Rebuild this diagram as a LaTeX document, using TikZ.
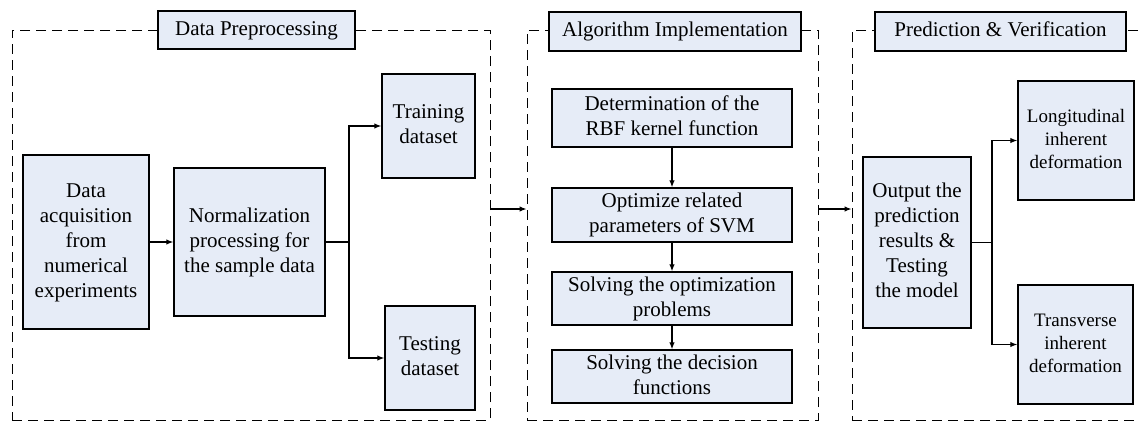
\documentclass[tikz,border=0pt]{standalone}
\usepackage{fontspec}
\setmainfont{Liberation Serif}
\usetikzlibrary{arrows.meta}
\definecolor{boxfill}{HTML}{E6ECF7}
\newcommand\boxtext[1]{\raisebox{-3.5pt}{\begin{tabular}{@{}c@{}}#1\end{tabular}}}
\begin{document}
\begin{tikzpicture}[x=1pt,y=-1pt,
  boxbase/.style={draw=black, line width=1.4pt, fill=boxfill, inner sep=0pt},
  box/.style={boxbase, font=\fontsize{21}{25}\selectfont},
  smallbox/.style={boxbase, font=\fontsize{19}{23}\selectfont},
  frame/.style={draw=black, line width=1pt, dash pattern=on 10pt off 6pt, inner sep=0pt},
  arr/.style={line width=1.2pt, -{Latex[length=7pt,width=5.5pt]}},
  ln/.style={line width=1.2pt}]
\useasboundingbox (0,0) rectangle (1140,423);
% frames
\node[frame, minimum width=478pt, minimum height=390pt] (f1) at (251,225) {};
\node[frame, minimum width=291pt, minimum height=390pt] (f2) at (672.5,225) {};
\node[frame, minimum width=300pt, minimum height=390pt] (f3) at (1002,225) {};
% titles
\node[box, minimum width=197pt, minimum height=38pt] (t1) at (256.5,30) {\boxtext{Data Preprocessing}};
\node[box, minimum width=252pt, minimum height=39pt] (t2) at (675,31.5) {\boxtext{Algorithm Implementation}};
\node[box, minimum width=251pt, minimum height=39pt] (t3) at (1000.5,31.5) {\boxtext{Prediction \& Verification}};
% stage 1
\node[box, minimum width=126pt, minimum height=174pt] (acq) at (86,242) {\boxtext{Data\\acquisition\\from\\numerical\\experiments}};
\node[box, minimum width=151pt, minimum height=148pt] (norm) at (249.5,242) {\boxtext{Normalization\\processing for\\the sample data}};
\node[box, minimum width=93pt, minimum height=104pt] (train) at (428.5,126) {\boxtext{Training\\dataset}};
\node[box, minimum width=90pt, minimum height=104pt] (test) at (430,358) {\boxtext{Testing\\dataset}};
\coordinate (b1) at (349,242);
\draw[arr] (acq) -- (norm);
\draw[ln] (norm) -- (b1);
\draw[arr] (b1) |- (train);
\draw[arr] (b1) |- (test);
% stage 2
\node[box, minimum width=240pt, minimum height=58pt] (det) at (672,118) {\boxtext{Determination of the\\RBF kernel function}};
\node[box, minimum width=240pt, minimum height=54pt] (opt) at (672,215) {\boxtext{Optimize related\\parameters of SVM}};
\node[box, minimum width=240pt, minimum height=53pt] (solopt) at (672,298.5) {\boxtext{Solving the optimization\\problems}};
\node[box, minimum width=240pt, minimum height=53pt] (soldec) at (672,376.5) {\boxtext{Solving the decision\\functions}};
\draw[arr] (det) -- (opt);
\draw[arr] (opt) -- (solopt);
\draw[arr] (solopt) -- (soldec);
% stage 3
\node[box, minimum width=108pt, minimum height=171pt] (out) at (917,242.5) {\boxtext{Output the\\prediction\\results \&\\Testing\\the model}};
\node[smallbox, minimum width=116pt, minimum height=119pt] (long) at (1076,140.5) {\boxtext{Longitudinal\\inherent\\deformation}};
\node[smallbox, minimum width=115pt, minimum height=119pt] (trans) at (1075.5,344.5) {\boxtext{Transverse\\inherent\\deformation}};
\coordinate (b2) at (992,242.5);
\draw[ln] (out) -- (b2);
\draw[arr] (b2) |- (long);
\draw[arr] (b2) |- (trans);
% between frames
\draw[arr] ([yshift=16pt]f1.east) -- ([yshift=16pt]f1.east -| f2.west);
\draw[arr] ([yshift=16pt]f2.east) -- ([yshift=16pt]f2.east -| f3.west);
\end{tikzpicture}
\end{document}
